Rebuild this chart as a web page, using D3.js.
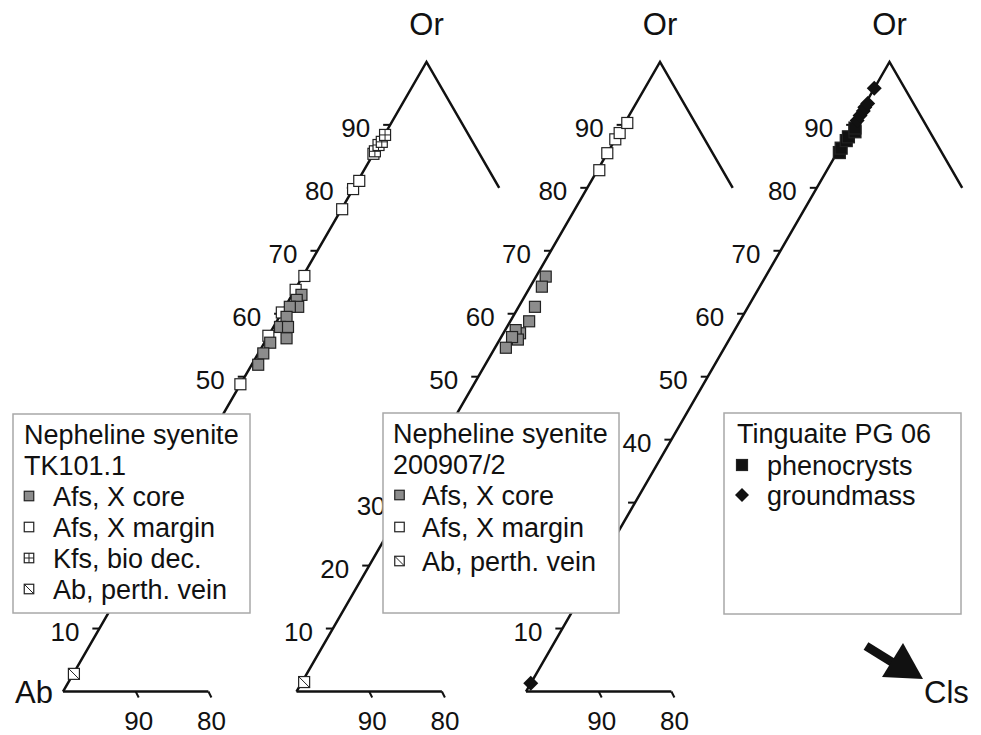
<!DOCTYPE html>
<html>
<head>
<meta charset="utf-8">
<script src="https://cdn.jsdelivr.net/npm/d3@7"></script>
<style>
body { margin: 0; background: #fff; }
text { font-family: "Liberation Sans", Arial, sans-serif; fill: #111; }
</style>
</head>
<body>
<svg id="chart" width="981" height="735"></svg>
<script>
// every point is [Or, Cls] in mol %, Ab = 100 - Or - Cls
const tk101Core = [[63.0,1.3],[62.2,1.05],[61.1,1.8],[61.1,0.65],[59.5,1.0],[57.9,0.9],
                   [57.9,2.0],[56.1,2.7],[55.4,0.8],[53.7,0.7],[51.9,0.9]]
const tk101Margin = [[66.0,0.2],[63.8,0.1],[60.2,0],[56.5,0],[48.8,0],[76.6,0.1],
                     [79.8,0],[81.1,0.2],[85.4,0]]
const tk101Kfs = [[85.8,0],[86.8,0],[87.3,0.2],[88.4,0.1]]
const tk101Ab = [[2.8,0.1]]

const s200907Core = [[65.9,1.33],[64.3,1.6],[61.1,2.25],[58.8,2.6],[56.9,2.3],
                     [57.4,1.45],[55.9,2.5],[56.3,1.5],[54.6,1.5]]
const s200907Margin = [[82.8,0.25],[85.5,0],[87.7,0],[88.7,0.1],[90.3,0.35]]
const s200907Ab = [[1.5,0.3]]

const pg06Pheno = [[85.6,0.3],[86.3,0.2],[87.5,0.3],[88.1,0.3],[88.9,0.8],[89.5,0.5]]
const pg06Ground = [[1.3,0],[90.7,0.2],[91.5,0.2],[92.2,0.3],[92.8,0.2],[93.4,0.3],[95.8,0]]

const sideTicks = [10,20,30,40,50,60,70,80,90]   // Or along Ab-Or
const baseTicks = [90,80]                       // Ab along Ab-Cls
const vertexLabels = ['Ab', 'Or', 'Cls']

const legend1Title = ['Nepheline syenite', 'TK101.1']
const legend1Items = ['Afs, X core', 'Afs, X margin', 'Kfs, bio dec.', 'Ab, perth. vein']
const legend2Title = ['Nepheline syenite', '200907/2']
const legend2Items = ['Afs, X core', 'Afs, X margin', 'Ab, perth. vein']
const legend3Title = ['Tinguaite PG 06']
const legend3Items = ['phenocrysts', 'groundmass']

const svg = d3.select('#chart')
const side = 727, base = 691.5
const panelX = [63, 296.5, 526]

const across = d3.scaleLinear().domain([0, 100]).range([0, side])
const up = d3.scaleLinear().domain([0, 100]).range([base, base - side * Math.sqrt(3) / 2])

function project(x0, or, cls) {
    return [x0 + across(cls + or / 2), up(or)]
}

function marker(g, kind, s) {
    if (kind === 'diamond') {
        g.append('path').attr('d', `M0,${-s}L${s},0L0,${s}L${-s},0Z`).attr('fill', '#111')
        return
    }
    let fill = kind === 'core' ? '#8c8c8c' : (kind === 'pheno' ? '#111' : '#fff')
    g.append('rect')
        .attr('x', -s / 2).attr('y', -s / 2).attr('width', s).attr('height', s)
        .attr('fill', fill).attr('stroke', '#222').attr('stroke-width', 1.2)
    if (kind === 'kfs') {
        g.append('path').attr('d', `M0,${-s/2}V${s/2}M${-s/2},0H${s/2}`)
            .attr('stroke', '#222').attr('stroke-width', 1)
    }
    if (kind === 'ab') {
        g.append('path').attr('d', `M${-s/2},${-s/2}L${s/2},${s/2}`)
            .attr('stroke', '#222').attr('stroke-width', 1)
    }
}

const panels = [
    { x0: panelX[0], series: [[tk101Ab, 'ab'], [tk101Margin, 'margin'], [tk101Core, 'core'], [tk101Kfs, 'kfs']] },
    { x0: panelX[1], series: [[s200907Ab, 'ab'], [s200907Margin, 'margin'], [s200907Core, 'core']] },
    { x0: panelX[2], series: [[pg06Pheno, 'pheno'], [pg06Ground, 'diamond']] }
]

panels.forEach(p => {
    let g = svg.append('g').attr('class', 'panel')
    let ab = project(p.x0, 0, 0), or = project(p.x0, 100, 0)
    let orCls = project(p.x0, 80, 20), abCls = project(p.x0, 0, 20)

    g.append('path')
        .attr('d', d3.line()([ab, or, orCls]))
        .attr('fill', 'none').attr('stroke', '#111').attr('stroke-width', 2.5)
        .attr('stroke-linejoin', 'miter')
    g.append('path')
        .attr('d', d3.line()([ab, abCls]))
        .attr('fill', 'none').attr('stroke', '#111').attr('stroke-width', 2.5)

    // ticks on Ab-Or
    sideTicks.forEach(v => {
        let [x, y] = project(p.x0, v, 0)
        g.append('line').attr('x1', x).attr('y1', y).attr('x2', x - 7).attr('y2', y)
            .attr('stroke', '#111').attr('stroke-width', 2)
        g.append('text').attr('class', 'tick-label').attr('x', x - 20).attr('y', y + 12)
            .attr('text-anchor', 'end').style('font-size', '26px').text(v)
    })
    // ticks on Ab-Cls
    baseTicks.forEach(v => {
        let [x, y] = project(p.x0, 0, 100 - v)
        g.append('line').attr('x1', x).attr('y1', y).attr('x2', x + 3).attr('y2', y + 6)
            .attr('stroke', '#111').attr('stroke-width', 2)
        g.append('text').attr('x', x + 3).attr('y', y + 38)
            .attr('text-anchor', 'middle').style('font-size', '26px').text(v)
    })

    g.append('text').attr('x', or[0]).attr('y', 35)
        .attr('text-anchor', 'middle').style('font-size', '31px').text(vertexLabels[1])

    p.series.forEach(([data, kind]) => {
        g.selectAll(null).data(data).enter().append('g')
            .attr('transform', d => 'translate(' + project(p.x0, d[0], d[1]) + ')')
            .each(function () { marker(d3.select(this), kind, kind === 'diamond' ? 7.5 : (kind === 'pheno' ? 12 : 11)) })
    })
})

svg.append('text').attr('x', panelX[0] - 10).attr('y', 703)
    .attr('text-anchor', 'end').style('font-size', '31px').text(vertexLabels[0])
svg.append('text').attr('x', 924).attr('y', 703)
    .style('font-size', '31px').text(vertexLabels[2])

// arrow toward Cls
svg.append('line').attr('x1', 866).attr('y1', 646).attr('x2', 895).attr('y2', 664)
    .attr('stroke', '#111').attr('stroke-width', 9)
svg.append('path').attr('d', 'M882,677L903,643L923,679Z').attr('fill', '#111')

let boxes = []
function legend(box, title, items, kinds, opt) {
    boxes.push(box)
    let g = svg.append('g').attr('class', 'legend')
    g.append('rect').attr('x', box[0]).attr('y', box[1]).attr('width', box[2]).attr('height', box[3])
        .attr('fill', '#fff').attr('stroke', '#a8a8a8').attr('stroke-width', 1.5)
    title.forEach((t, i) => {
        g.append('text').attr('x', opt.tx).attr('y', opt.lines[i])
            .style('font-size', '27px').text(t)
    })
    items.forEach((t, i) => {
        let y = opt.lines[title.length + i]
        let m = g.append('g').attr('transform', 'translate(' + [opt.mx, y - 10] + ')')
        marker(m, kinds[i], kinds[i] === 'diamond' ? 7 : opt.ms)
        g.append('text').attr('x', opt.ix).attr('y', y)
            .style('font-size', '27px').text(t)
    })
}

legend([13, 414, 237, 199], legend1Title, legend1Items, ['core', 'margin', 'kfs', 'ab'],
    { tx: 24, mx: 29, ix: 53, ms: 9.5, lines: [444, 475, 506, 537, 568, 599] })
legend([383, 413, 236, 200], legend2Title, legend2Items, ['core', 'margin', 'ab'],
    { tx: 393, mx: 399.5, ix: 422, ms: 9.5, lines: [443, 474, 505, 537, 571] })
legend([724, 413, 237, 201], legend3Title, legend3Items, ['pheno', 'diamond'],
    { tx: 737, mx: 742, ix: 767, ms: 11, lines: [443, 475, 505] })

// tick labels sitting wholly under a legend box can't be seen anyway
svg.selectAll('.tick-label').each(function () {
    let b = this.getBBox()
    let hidden = boxes.some(r => b.x >= r[0] && b.x + b.width <= r[0] + r[2] &&
                                 b.y >= r[1] && b.y + b.height <= r[1] + r[3])
    if (hidden) d3.select(this).remove()
})
</script>
</body>
</html>
